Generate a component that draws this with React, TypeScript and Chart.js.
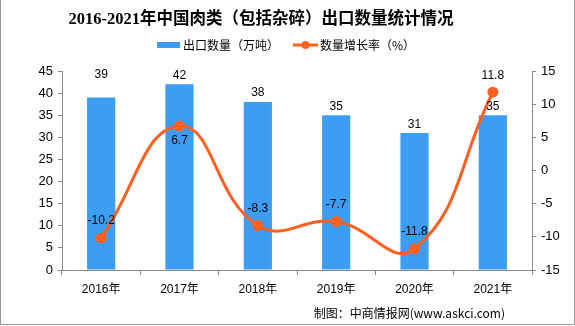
import React, { useEffect, useRef } from "react";
import { Chart, registerables } from "chart.js";

Chart.register(...registerables);

const categories = ["2016年", "2017年", "2018年", "2019年", "2020年", "2021年"];
const exportVolume = [39, 42, 38, 35, 31, 35];
const growthRate = [-10.2, 6.7, -8.3, -7.7, -11.8, 11.8];
const growthLabelSide = ["above", "below", "above", "above", "above", "above"];
const barLabelLift = [23, 9, 9, 9, 8, 9];

const TITLE = "2016-2021年中国肉类（包括杂碎）出口数量统计情况";
const BAR_NAME = "出口数量（万吨）";
const LINE_NAME = "数量增长率（%）";
const SOURCE = "制图：中商情报网(www.askci.com)";

const BAR_COLOR = "#3D9DF3";
const LINE_COLOR = "#FF6020";
const AXIS_COLOR = "#888888";
const FONT = "'Liberation Sans', 'Noto Sans CJK SC', sans-serif";

const overlay = {
  id: "overlay",
  afterDraw(chart: any) {
    const ctx = chart.ctx as CanvasRenderingContext2D;
    const W = chart.width;
    const H = chart.height;
    ctx.save();
    // title
    ctx.fillStyle = "#000";
    ctx.font = "bold 16.5px 'Liberation Serif', 'Noto Sans CJK SC', serif";
    ctx.textAlign = "center";
    ctx.textBaseline = "middle";
    ctx.fillText(TITLE, 261, 20);

    // legend
    ctx.font = "12px 'Noto Sans CJK SC', sans-serif";
    ctx.textAlign = "left";
    ctx.fillStyle = BAR_COLOR;
    ctx.fillRect(157, 42, 23, 6);
    ctx.fillStyle = "#000";
    ctx.fillText(BAR_NAME, 183, 45);
    ctx.strokeStyle = LINE_COLOR;
    ctx.lineWidth = 3;
    ctx.beginPath();
    ctx.moveTo(293, 45);
    ctx.lineTo(318, 45);
    ctx.stroke();
    ctx.fillStyle = LINE_COLOR;
    ctx.beginPath();
    ctx.arc(305.5, 45, 4, 0, Math.PI * 2);
    ctx.fill();
    ctx.fillStyle = "#000";
    ctx.fillText(LINE_NAME, 320, 45);

    // data labels
    ctx.font = "12px " + FONT;
    ctx.textAlign = "center";
    const barMeta = chart.getDatasetMeta(0);
    barMeta.data.forEach((el: any, i: number) => {
      ctx.fillText(String(exportVolume[i]), el.x, el.y - barLabelLift[i]);
    });
    const lineMeta = chart.getDatasetMeta(1);
    lineMeta.data.forEach((el: any, i: number) => {
      const dy = growthLabelSide[i] === "below" ? 15 : -17;
      ctx.fillText(growthRate[i].toFixed(1), el.x, el.y + dy);
    });

    // source
    ctx.font = "12px 'Noto Sans CJK SC', sans-serif";
    ctx.textAlign = "right";
    ctx.fillText(SOURCE, 505, 313);

    // frame
    ctx.strokeStyle = "#999";
    ctx.lineWidth = 1;
    ctx.beginPath();
    ctx.moveTo(0.5, 0);
    ctx.lineTo(0.5, H - 1.5);
    ctx.lineTo(W - 0.5, H - 1.5);
    ctx.lineTo(W - 0.5, 0);
    ctx.stroke();
    ctx.restore();
  },
};

export default function App() {
  const ref = useRef<HTMLCanvasElement>(null);
  useEffect(() => {
    document.body.style.margin = "0";
    const chart = new Chart(ref.current!, {
      type: "bar",
      data: {
        labels: categories,
        datasets: [
          {
            type: "bar",
            label: BAR_NAME,
            data: exportVolume,
            backgroundColor: BAR_COLOR,
            yAxisID: "y",
            categoryPercentage: 1,
            barPercentage: 0.36,
            order: 2,
          },
          {
            type: "line",
            label: LINE_NAME,
            data: growthRate,
            borderColor: LINE_COLOR,
            backgroundColor: LINE_COLOR,
            borderWidth: 3,
            tension: 0.45,
            pointRadius: 4,
            pointBackgroundColor: LINE_COLOR,
            pointBorderColor: LINE_COLOR,
            yAxisID: "y1",
            order: 1,
          } as any,
        ],
      },
      options: {
        responsive: false,
        animation: false,
        layout: { padding: { top: 71, left: 0, right: 0, bottom: 0 } },
        plugins: {
          legend: { display: false },
          title: { display: false },
          tooltip: { enabled: false },
        },
        scales: {
          x: {
            offset: true,
            grid: {
              display: true,
              drawOnChartArea: false,
              drawTicks: true,
              tickLength: 5,
              color: AXIS_COLOR,
              offset: true,
            },
            border: { color: AXIS_COLOR },
            ticks: { color: "#000", font: { family: FONT, size: 12 }, padding: 7, maxRotation: 0 },
            afterFit: (s: any) => {
              s.height = 56;
            },
          },
          y: {
            position: "left",
            min: 0,
            max: 45,
            grid: { drawOnChartArea: false, tickLength: 4, color: AXIS_COLOR },
            border: { color: AXIS_COLOR },
            ticks: { stepSize: 5, color: "#000", font: { family: FONT, size: 13 }, padding: 5 },
            afterFit: (s: any) => {
              s.width = 62;
            },
          },
          y1: {
            position: "right",
            min: -15,
            max: 15,
            grid: { drawOnChartArea: false, tickLength: 4, color: AXIS_COLOR },
            border: { color: AXIS_COLOR },
            ticks: { stepSize: 5, color: "#000", font: { family: FONT, size: 13 }, padding: 5 },
            afterFit: (s: any) => {
              s.width = 43;
            },
          },
        },
      } as any,
      plugins: [overlay],
    });
    return () => chart.destroy();
  }, []);
  return (
    <div style={{ position: "absolute", left: 0, top: 0, width: 575, height: 326, background: "#fff" }}>
      <canvas ref={ref} width={575} height={326} />
    </div>
  );
}
